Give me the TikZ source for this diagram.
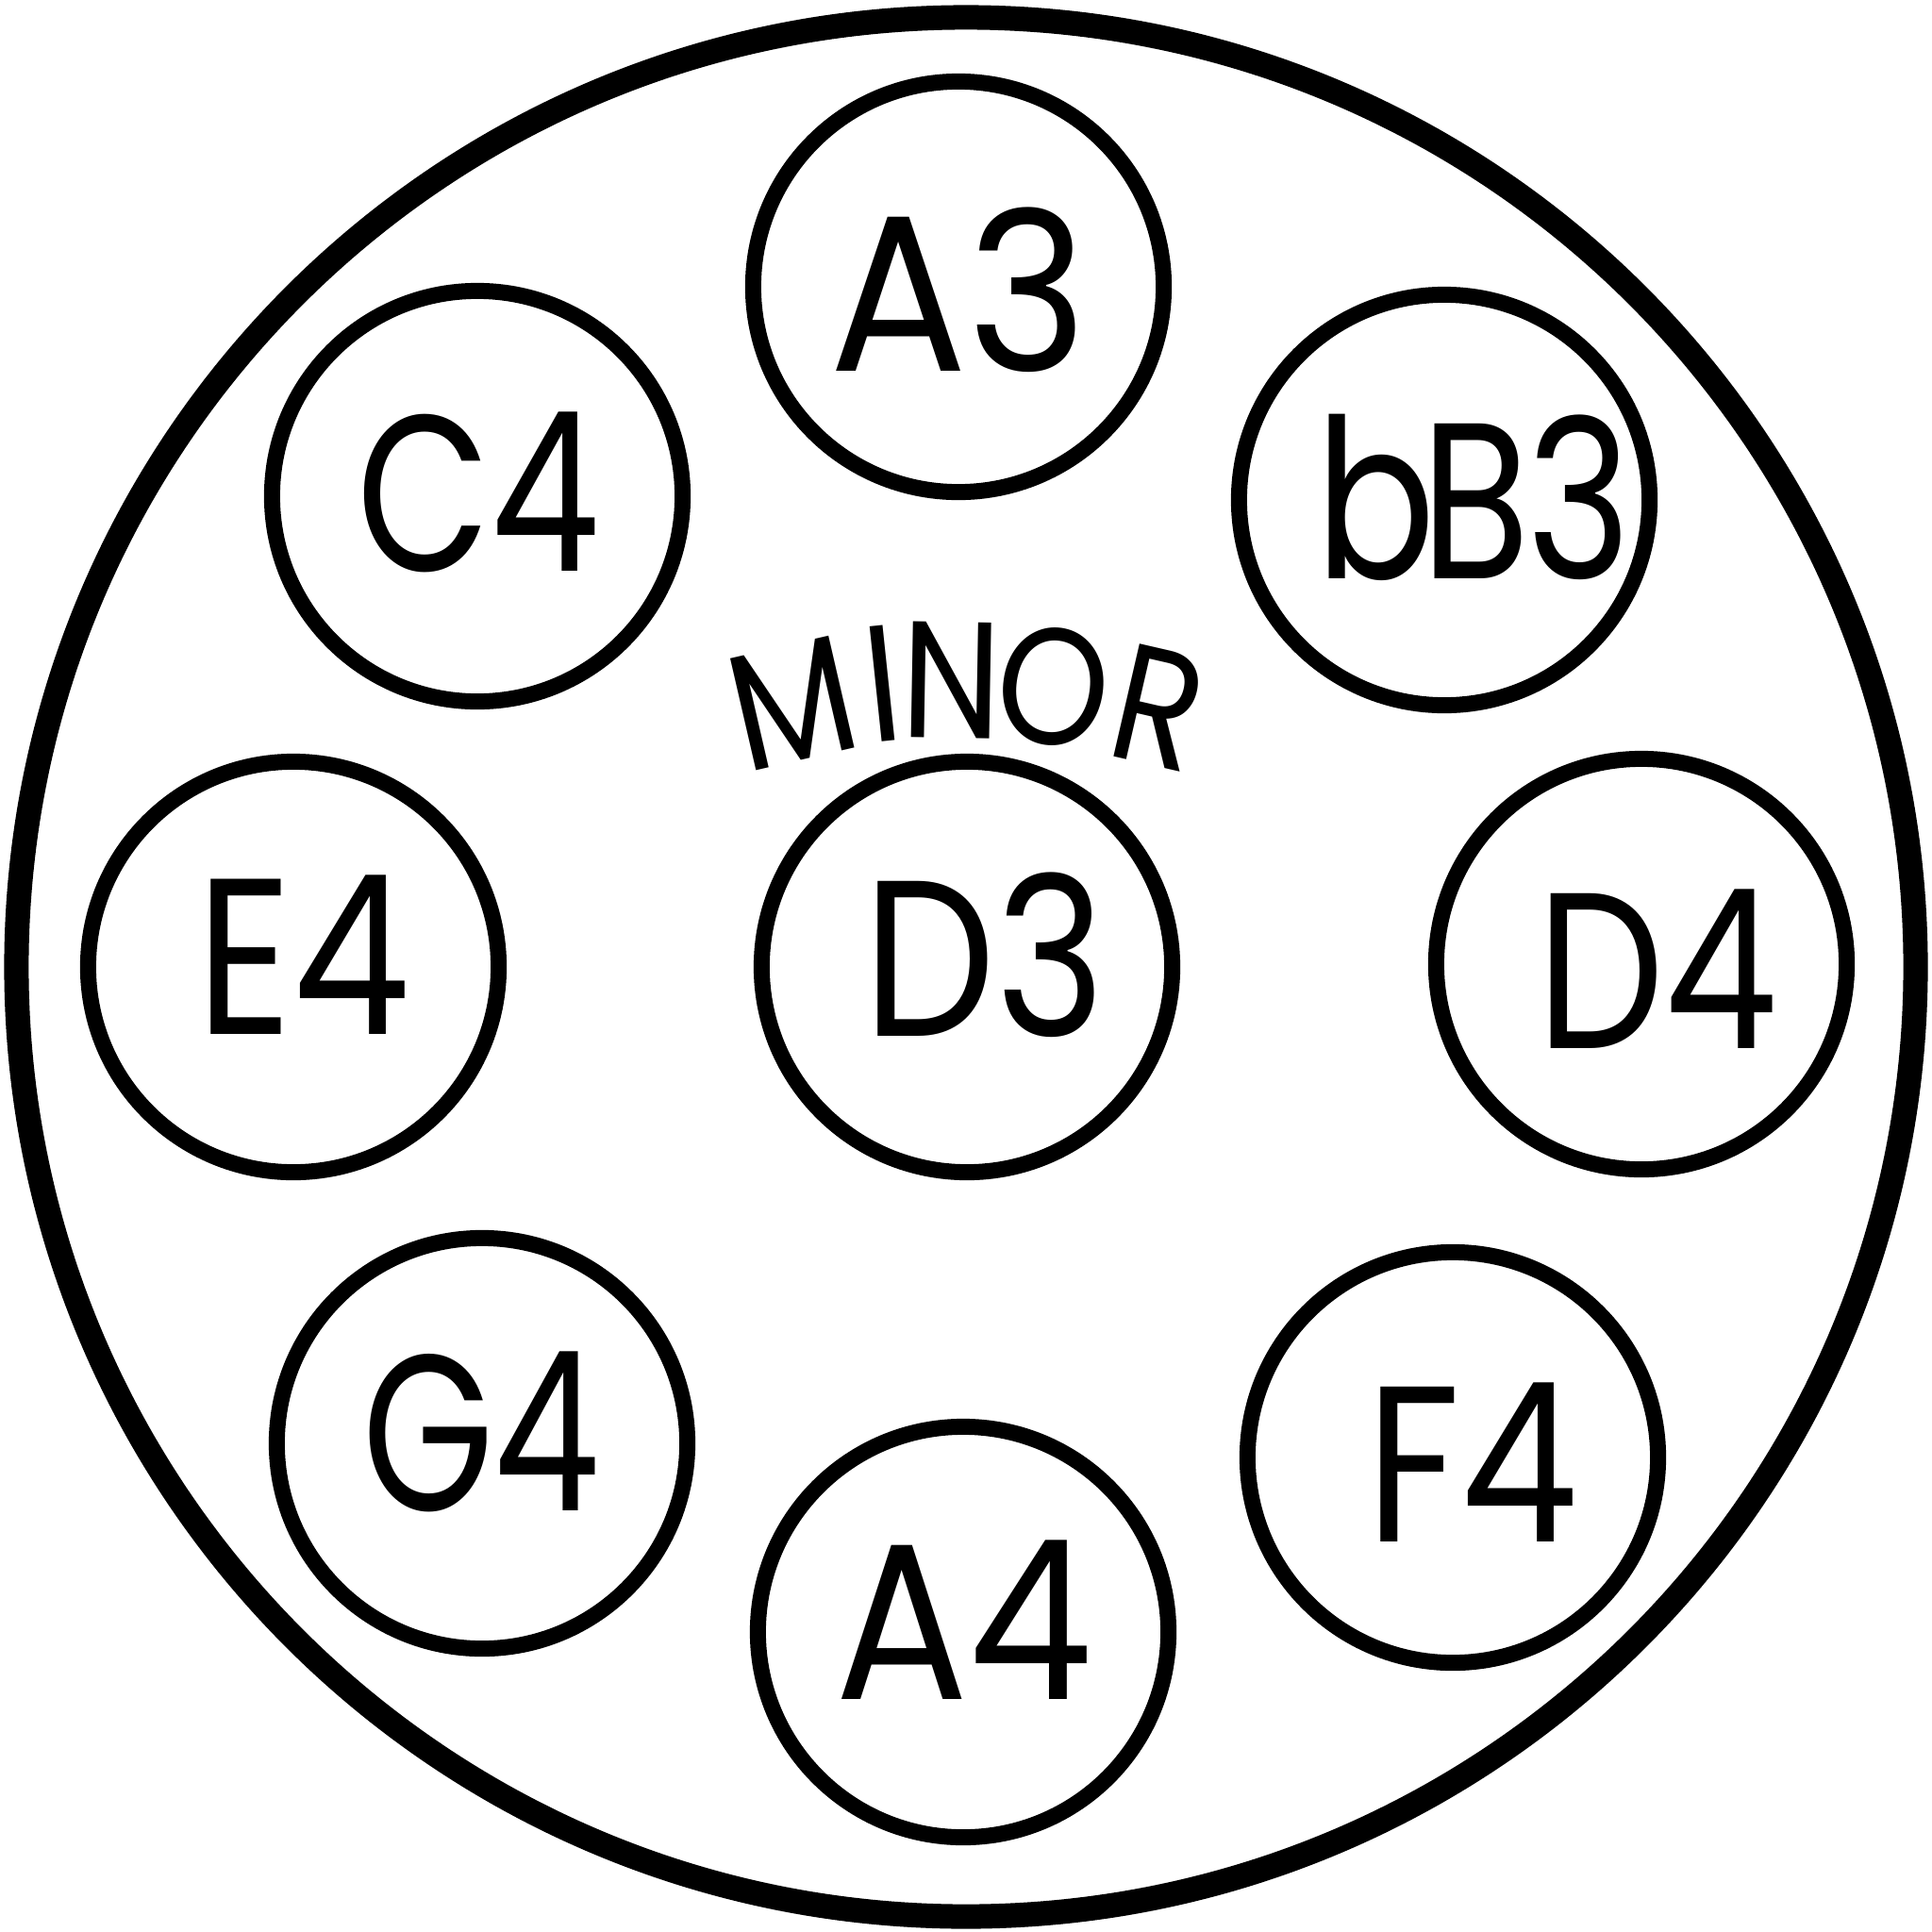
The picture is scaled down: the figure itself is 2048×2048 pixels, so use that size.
\documentclass[tikz,border=0pt]{standalone}
\usepackage{fontspec}
\newfontfamily\notefont{Poppins}
\newcommand\sqz[2]{\scalebox{#1}[1]{#2}}
\begin{document}
\begin{tikzpicture}[x=0.01cm,y=-0.01cm]
\tikzset{
  ring/.style={draw=black, line width=0.17cm, circle, minimum size=4.35cm, inner sep=0pt},
  bigring/.style={draw=black, line width=0.26cm, circle, minimum size=20.12cm, inner sep=0pt},
  note/.style={font=\notefont\fontsize{67}{67}\selectfont, inner sep=0pt, text=black},
  minorletter/.style={font=\notefont\fontsize{50}{50}\selectfont, inner sep=0pt, text=black},
}
\useasboundingbox (0,0) rectangle (2048,2048);
\fill[white] (0,0) rectangle (2048,2048);

\node[bigring] (outer) at (1024,1025) {};

\node[ring] (cA3) at (1016,304) {};
\node[ring] (cC4) at (506,526) {};
\node[ring] (cbB3) at (1531,530) {};
\node[ring] (cE4) at (311,1025) {};
\node[ring] (cD3) at (1025,1025) {};
\node[ring] (cD4) at (1740,1022) {};
\node[ring] (cG4) at (511,1530) {};
\node[ring] (cF4) at (1540,1545) {};
\node[ring] (cA4) at (1021,1730) {};

\node[note] (tA3) at (1016,307) {\sqz{0.92}{A3}};
\node[note] (tC4) at (507,522) {\sqz{0.78}{C4}};
\node[note] (tbB3) at (1562,527) {\sqz{0.8}{b\kern-0.08em B\kern-0.02em 3}};
\node[note] (tE4) at (322,1012) {\sqz{0.84}{E4}};
\node[note] (tD3) at (1044,1012) {\sqz{0.84}{D3}};
\node[note] (tD4) at (1757,1027) {\sqz{0.81}{D4}};
\node[note] (tG4) at (510,1518) {\sqz{0.76}{G4}};
\node[note] (tF4) at (1561,1550) {\sqz{0.84}{F4}};
\node[note] (tA4) at (1022,1717) {\sqz{0.89}{A4}};

\node[minorletter, rotate=13] (mM) at (840,746) {\sqz{0.86}{M}};
\node[minorletter, rotate=6] (mI) at (936,725) {\sqz{0.86}{I}};
\node[minorletter, rotate=-1] (mN) at (1009,721) {\sqz{0.86}{N}};
\node[minorletter, rotate=-8] (mO) at (1117,728) {\sqz{0.86}{O}};
\node[minorletter, rotate=-13] (mR) at (1228,750) {\sqz{0.86}{R}};
\end{tikzpicture}
\end{document}
